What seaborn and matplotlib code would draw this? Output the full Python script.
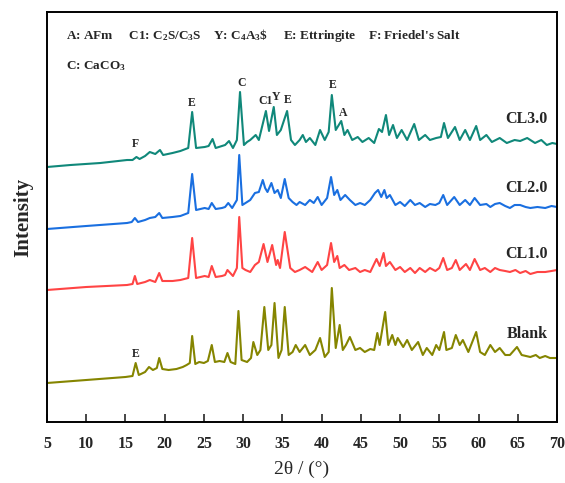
import matplotlib
matplotlib.use("Agg")
import matplotlib.pyplot as plt
import seaborn as sns
import numpy as np
import pandas as pd

# 2theta / intensity (stacked, arbitrary units)
blank_tt = [5.0, 10.0, 15.0, 15.9, 16.3, 16.7, 17.5, 18.0, 18.5, 19.0, 19.3, 19.7, 20.5, 21.5, 22.3, 22.8,
            23.2, 23.5, 23.9, 24.4, 25.0, 25.5, 26.0, 26.4, 27.0, 27.6, 28.0, 28.4, 29.0, 29.4, 29.8, 30.5,
            31.0, 31.3, 31.8, 32.2, 32.7, 33.2, 33.6, 34.0, 34.5, 34.9, 35.3, 35.8, 36.3, 36.7, 37.2, 37.9,
            38.5, 39.2, 39.8, 40.4, 40.9, 41.3, 41.8, 42.3, 42.7, 43.1, 43.6, 44.3, 44.9, 45.5, 46.2, 46.7,
            47.1, 47.4, 48.1, 48.5, 49.0, 49.4, 49.7, 50.4, 50.9, 51.5, 52.3, 52.9, 53.4, 54.1, 54.6, 55.0,
            55.6, 55.9, 56.6, 57.1, 57.6, 58.0, 58.7, 59.2, 59.7, 60.2, 60.8, 61.5, 62.1, 62.7, 63.4, 64.0,
            64.9, 65.5, 66.6, 67.3, 67.8, 68.5, 69.1, 70.0]
blank_int = [39, 42, 45, 46, 59, 47, 50, 55, 52, 54, 64, 53, 52, 53, 55, 57,
             59, 86, 58, 60, 59, 61, 77, 60, 61, 60, 69, 60, 58, 111, 62, 60,
             64, 80, 67, 72, 115, 72, 77, 119, 64, 72, 115, 67, 70, 77, 70, 77,
             67, 72, 84, 65, 70, 134, 74, 97, 72, 77, 85, 72, 74, 70, 73, 72,
             89, 77, 110, 77, 87, 77, 84, 75, 82, 72, 80, 67, 74, 67, 77, 72,
             90, 72, 74, 87, 77, 82, 70, 80, 90, 70, 67, 77, 70, 74, 67, 67,
             75, 67, 65, 67, 64, 66, 64, 64]

cl1_tt = [5.0, 10.0, 15.2, 15.9, 16.2, 16.5, 17.5, 18.1, 18.8, 19.3, 19.7, 21.0, 22.0, 23.0, 23.5, 24.0,
          25.1, 25.6, 26.0, 26.5, 27.3, 27.7, 28.0, 28.7, 29.2, 29.5, 29.9, 30.3, 30.9, 31.5, 32.0, 32.6,
          33.1, 33.7, 34.2, 34.4, 34.7, 35.3, 36.0, 36.6, 37.2, 37.9, 38.8, 39.5, 40.0, 40.7, 41.2, 41.6,
          42.0, 42.3, 42.9, 43.5, 44.3, 44.9, 45.5, 46.2, 47.0, 47.4, 47.9, 48.2, 48.7, 49.4, 50.0, 50.6,
          51.3, 51.9, 52.5, 53.2, 53.8, 54.5, 55.0, 55.5, 56.0, 56.6, 57.1, 57.6, 58.4, 58.9, 59.5, 60.2,
          60.8, 61.5, 62.1, 62.7, 63.4, 64.0, 64.7, 65.3, 66.0, 66.6, 67.5, 68.5, 69.3, 70.0]
cl1_int = [132, 135, 137, 138, 146, 138, 140, 142, 140, 149, 141, 141, 142, 144, 184, 144,
           146, 145, 156, 145, 146, 147, 152, 146, 154, 205, 154, 152, 150, 157, 160, 178,
           160, 177, 157, 162, 154, 190, 154, 150, 152, 155, 150, 160, 152, 157, 179, 160,
           166, 154, 157, 152, 154, 150, 152, 150, 163, 156, 169, 156, 160, 152, 155, 150,
           154, 149, 154, 150, 154, 151, 154, 164, 152, 154, 162, 152, 158, 152, 163, 152,
           154, 150, 154, 152, 151, 150, 152, 149, 151, 148, 150, 150, 151, 152]

cl2_tt = [5.0, 10.0, 15.2, 15.8, 16.2, 16.6, 17.5, 18.1, 18.8, 19.3, 19.7, 21.0, 22.0, 23.0, 23.5, 24.0,
          25.1, 25.6, 26.0, 26.5, 27.3, 27.7, 28.1, 28.6, 29.2, 29.5, 29.9, 30.5, 30.9, 31.5, 32.0, 32.5,
          32.8, 33.1, 33.6, 34.0, 34.4, 34.8, 35.3, 35.8, 36.3, 36.8, 37.2, 37.9, 38.5, 39.0, 39.5, 40.0,
          40.7, 41.2, 41.6, 42.0, 42.4, 43.0, 43.6, 44.3, 44.9, 45.5, 46.2, 46.8, 47.2, 47.6, 48.0, 48.3,
          48.7, 49.4, 50.0, 50.6, 51.3, 51.9, 52.5, 53.2, 53.8, 54.5, 55.0, 55.5, 56.0, 56.9, 57.6, 58.3,
          58.9, 59.5, 60.2, 61.0, 61.5, 62.1, 62.7, 63.4, 64.0, 64.6, 65.3, 66.0, 66.6, 67.5, 68.5, 69.3,
          70.0]
cl2_int = [193, 196, 199, 200, 204, 200, 202, 204, 205, 209, 204, 205, 206, 209, 248, 212,
           214, 213, 219, 213, 214, 215, 219, 214, 222, 267, 217, 220, 222, 229, 230, 242,
           234, 230, 239, 229, 232, 224, 243, 224, 220, 217, 220, 217, 222, 219, 225, 217,
           224, 245, 227, 232, 222, 227, 222, 217, 219, 217, 222, 229, 232, 225, 232, 224,
           227, 217, 220, 216, 222, 217, 219, 215, 218, 217, 219, 227, 217, 225, 217, 222,
           217, 224, 217, 218, 215, 218, 219, 216, 214, 217, 217, 215, 214, 215, 214, 216,
           215]

cl3_tt = [5.0, 8.0, 11.8, 15.2, 15.9, 16.4, 16.8, 17.5, 18.1, 18.8, 19.4, 19.8, 21.0, 22.0, 23.0, 23.5,
          24.0, 25.1, 25.6, 26.1, 26.5, 27.3, 27.7, 28.2, 28.7, 29.2, 29.6, 30.1, 30.5, 30.9, 31.6, 32.0,
          32.9, 33.3, 33.9, 34.3, 34.8, 35.6, 36.1, 36.6, 37.2, 37.6, 38.0, 38.5, 39.2, 39.8, 40.4, 40.9,
          41.3, 41.8, 42.5, 42.9, 43.3, 43.9, 44.6, 45.2, 46.0, 46.7, 47.3, 47.7, 48.2, 48.6, 49.1, 49.6,
          50.2, 50.9, 51.8, 52.4, 53.2, 53.8, 54.6, 55.2, 55.6, 56.1, 57.0, 57.6, 58.3, 58.9, 59.7, 60.2,
          61.0, 61.7, 62.7, 63.6, 64.6, 65.3, 66.2, 67.2, 68.0, 68.7, 69.4, 70.0]
cl3_int = [255, 257, 259, 262, 262, 265, 263, 266, 270, 268, 272, 267, 269, 271, 274, 310,
           274, 275, 276, 283, 274, 276, 277, 281, 274, 282, 330, 277, 280, 282, 287, 282,
           311, 291, 315, 287, 292, 311, 282, 277, 282, 287, 280, 284, 277, 292, 282, 290,
           327, 292, 301, 287, 292, 282, 285, 280, 284, 279, 293, 290, 307, 287, 297, 284,
           292, 282, 298, 282, 287, 282, 284, 285, 299, 284, 295, 282, 292, 282, 296, 282,
           287, 280, 284, 279, 282, 281, 284, 279, 282, 277, 279, 278]

samples = ["Blank", "CL1.0", "CL2.0", "CL3.0"]
colors = ["#858500", "#ff4444", "#1a6fe0", "#10887a"]
label_y = [88, 168, 234, 303]

# phase markers on CL3.0 and Blank
peak_text = ["F", "E", "C", "C1", "Y", "E", "E", "A", "E"]
peak_tt = [16.3, 23.5, 29.85, 32.8, 34.2, 35.7, 41.45, 42.7, 16.3]
peak_y = [278, 319, 339, 321, 325, 322, 337, 309, 68]

df = pd.concat([
    pd.DataFrame({"tt": blank_tt, "I": blank_int, "sample": "Blank"}),
    pd.DataFrame({"tt": cl1_tt, "I": cl1_int, "sample": "CL1.0"}),
    pd.DataFrame({"tt": cl2_tt, "I": cl2_int, "sample": "CL2.0"}),
    pd.DataFrame({"tt": cl3_tt, "I": cl3_int, "sample": "CL3.0"}),
])

sns.set_style("white")
plt.rcParams['font.family'] = ['Liberation Serif', 'DejaVu Serif']
plt.rcParams['mathtext.fontset'] = 'custom'
plt.rcParams['mathtext.rm'] = 'Liberation Serif:bold'
plt.rcParams['mathtext.it'] = 'Liberation Serif:bold'
plt.rcParams['mathtext.bf'] = 'Liberation Serif:bold'

fig = plt.figure(figsize=(5.65, 4.83), dpi=100)
ax = fig.add_axes([47/565, 1-422/483, 510/565, 410/483])

sns.lineplot(data=df, x="tt", y="I", hue="sample", hue_order=samples,
             palette=dict(zip(samples, colors)), sort=False, estimator=None,
             linewidth=1.5, legend=False, ax=ax)

for s, c, yy in zip(samples, colors, label_y):
    ax.text(68.85, yy, s, ha="right", va="center", fontsize=11.5, fontweight="bold")

for t, x, y in zip(peak_text, peak_tt, peak_y):
    ax.text(x, y, t, ha="center", va="center", fontsize=8.5, fontweight="bold")

ax.text(7.4, 386, r"A: AFm     C1: C$_2$S/C$_3$S    Y: C$_4$A$_3$\$     E: Ettringite    F: Friedel's Salt",
        ha="left", va="center", fontsize=9.5, fontweight="bold")
ax.text(7.4, 356, r"C: CaCO$_3$", ha="left", va="center", fontsize=9.5, fontweight="bold")

ax.set_xlim(5, 70)
ax.set_ylim(0, 410)
ax.set_xticks(np.arange(5, 71, 5))
ax.set_yticks([])
ax.tick_params(axis="x", direction="in", length=6, width=1.2, labelsize=11.5, pad=10, top=False, bottom=True)
for lab in ax.get_xticklabels():
    lab.set_fontweight("bold")
for sp in ax.spines.values():
    sp.set_linewidth(1.4)
    sp.set_color("black")
ax.set_xlabel("2θ / (°)", fontsize=14, labelpad=6)
ax.set_ylabel("Intensity", fontsize=15, fontweight="bold", labelpad=10)

fig.savefig("out.png", dpi=100)
